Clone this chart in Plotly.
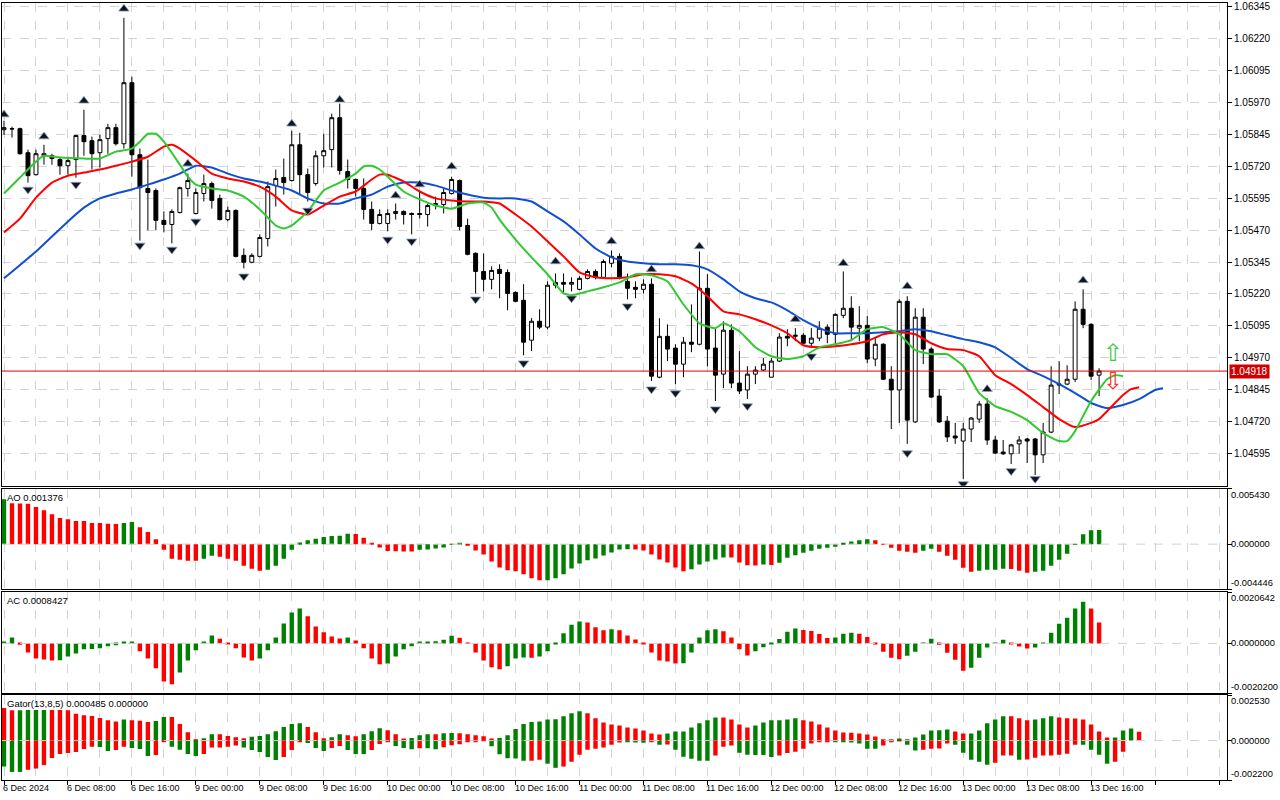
import plotly.graph_objects as go
from plotly.subplots import make_subplots

# hourly bars, 6 Dec 2024 00:00 .. 13 Dec 2024 17:00
bars = list(range(138))

opens = [
    1.05863, 1.05867, 1.05867, 1.05773, 1.05687, 1.05761, 1.05761, 1.05746, 1.05722, 1.05746,
    1.05840, 1.05820, 1.05773, 1.05828, 1.05871, 1.05808, 1.06047, 1.05765, 1.05633, 1.05625,
    1.05508, 1.05492, 1.05539, 1.05633, 1.05535, 1.05613, 1.05652, 1.05594, 1.05511, 1.05547,
    1.05371, 1.05344, 1.05367, 1.05437, 1.05644, 1.05676, 1.05664, 1.05804, 1.05687, 1.05652,
    1.05761, 1.05785, 1.05910, 1.05699, 1.05668, 1.05633, 1.05551, 1.05496, 1.05496, 1.05535,
    1.05543, 1.05535, 1.05535, 1.05531, 1.05566, 1.05570, 1.05613, 1.05664, 1.05488, 1.05379,
    1.05308, 1.05277, 1.05316, 1.05304, 1.05226, 1.05195, 1.05039, 1.05113, 1.05090, 1.05254,
    1.05265, 1.05258, 1.05238, 1.05281, 1.05308, 1.05285, 1.05340, 1.05367, 1.05269, 1.05246,
    1.05238, 1.05258, 1.04894, 1.05054, 1.05008, 1.04945, 1.05031, 1.05023, 1.05242, 1.05008,
    1.04906, 1.05078, 1.04871, 1.04844, 1.04906, 1.04922, 1.04894, 1.04957, 1.05054, 1.05054,
    1.05058, 1.05027, 1.05047, 1.05090, 1.05062, 1.05136, 1.05164, 1.05086, 1.05097, 1.04965,
    1.05023, 1.04886, 1.04844, 1.05191, 1.04719, 1.05129, 1.05004, 1.04820, 1.04722, 1.04664,
    1.04644, 1.04691, 1.04730, 1.04789, 1.04648, 1.04601, 1.04594, 1.04633, 1.04652, 1.04652,
    1.04590, 1.04679, 1.04863, 1.04867, 1.04886, 1.05160, 1.05101, 1.04902,
]
highs = [
    1.05898, 1.05875, 1.05871, 1.05785, 1.05785, 1.05804, 1.05769, 1.05757, 1.05757, 1.05843,
    1.05941, 1.05836, 1.05843, 1.05886, 1.05886, 1.06301, 1.06070, 1.05789, 1.05746, 1.05633,
    1.05543, 1.05551, 1.05640, 1.05691, 1.05633, 1.05687, 1.05660, 1.05609, 1.05562, 1.05551,
    1.05398, 1.05379, 1.05453, 1.05660, 1.05707, 1.05750, 1.05859, 1.05851, 1.05711, 1.05781,
    1.05847, 1.05926, 1.05965, 1.05746, 1.05672, 1.05672, 1.05582, 1.05551, 1.05551, 1.05574,
    1.05547, 1.05539, 1.05625, 1.05574, 1.05601, 1.05633, 1.05679, 1.05668, 1.05515, 1.05383,
    1.05379, 1.05328, 1.05336, 1.05316, 1.05230, 1.05258, 1.05125, 1.05160, 1.05269, 1.05300,
    1.05300, 1.05285, 1.05289, 1.05316, 1.05316, 1.05355, 1.05390, 1.05379, 1.05300, 1.05269,
    1.05277, 1.05281, 1.05125, 1.05101, 1.05023, 1.05051, 1.05179, 1.05386, 1.05297, 1.05086,
    1.05113, 1.05101, 1.04996, 1.04937, 1.04937, 1.04969, 1.04969, 1.05066, 1.05082, 1.05086,
    1.05066, 1.05086, 1.05113, 1.05101, 1.05144, 1.05308, 1.05211, 1.05172, 1.05133, 1.05047,
    1.05027, 1.04937, 1.05199, 1.05211, 1.05164, 1.05164, 1.05011, 1.04847, 1.04742, 1.04715,
    1.04715, 1.04738, 1.04801, 1.04812, 1.04664, 1.04648, 1.04633, 1.04664, 1.04656, 1.04656,
    1.04715, 1.04937, 1.04957, 1.04941, 1.05191, 1.05238, 1.05105, 1.04929,
]
lows = [
    1.05843, 1.05832, 1.05765, 1.05656, 1.05683, 1.05726, 1.05726, 1.05687, 1.05687, 1.05675,
    1.05761, 1.05707, 1.05715, 1.05769, 1.05801, 1.05789, 1.05679, 1.05429, 1.05469, 1.05469,
    1.05461, 1.05418, 1.05535, 1.05601, 1.05531, 1.05582, 1.05554, 1.05508, 1.05504, 1.05363,
    1.05320, 1.05340, 1.05363, 1.05406, 1.05562, 1.05609, 1.05660, 1.05609, 1.05582, 1.05644,
    1.05715, 1.05715, 1.05687, 1.05633, 1.05601, 1.05511, 1.05469, 1.05492, 1.05465, 1.05511,
    1.05492, 1.05453, 1.05515, 1.05484, 1.05551, 1.05535, 1.05609, 1.05469, 1.05371, 1.05222,
    1.05230, 1.05238, 1.05203, 1.05156, 1.05187, 1.04980, 1.04996, 1.05082, 1.05082, 1.05242,
    1.05222, 1.05230, 1.05234, 1.05277, 1.05277, 1.05281, 1.05324, 1.05277, 1.05199, 1.05203,
    1.05222, 1.04879, 1.04890, 1.04957, 1.04867, 1.04894, 1.04992, 1.05019, 1.04937, 1.04801,
    1.04851, 1.04851, 1.04828, 1.04808, 1.04867, 1.04918, 1.04894, 1.04953, 1.05015, 1.05035,
    1.05023, 1.05008, 1.05035, 1.05027, 1.05023, 1.05125, 1.05035, 1.05035, 1.04949, 1.04937,
    1.04883, 1.04691, 1.04715, 1.04633, 1.04715, 1.04945, 1.04812, 1.04715, 1.04640, 1.04633,
    1.04496, 1.04640, 1.04715, 1.04629, 1.04594, 1.04590, 1.04554, 1.04594, 1.04558, 1.04511,
    1.04558, 1.04675, 1.04828, 1.04863, 1.04875, 1.05086, 1.04883, 1.04820,
]
closes = [
    1.05871, 1.05866, 1.05769, 1.05683, 1.05769, 1.05769, 1.05750, 1.05722, 1.05742, 1.05840,
    1.05816, 1.05769, 1.05824, 1.05871, 1.05808, 1.06047, 1.05765, 1.05636, 1.05617, 1.05508,
    1.05492, 1.05543, 1.05636, 1.05664, 1.05617, 1.05652, 1.05586, 1.05511, 1.05547, 1.05367,
    1.05344, 1.05371, 1.05441, 1.05640, 1.05672, 1.05656, 1.05804, 1.05687, 1.05617, 1.05761,
    1.05781, 1.05910, 1.05703, 1.05668, 1.05633, 1.05551, 1.05496, 1.05531, 1.05535, 1.05543,
    1.05531, 1.05531, 1.05531, 1.05566, 1.05574, 1.05617, 1.05668, 1.05484, 1.05375, 1.05308,
    1.05277, 1.05312, 1.05300, 1.05222, 1.05191, 1.05031, 1.05113, 1.05090, 1.05254, 1.05265,
    1.05258, 1.05265, 1.05281, 1.05308, 1.05285, 1.05347, 1.05367, 1.05281, 1.05242, 1.05238,
    1.05258, 1.04898, 1.05054, 1.05004, 1.04945, 1.05031, 1.05023, 1.05242, 1.05004, 1.04902,
    1.05078, 1.04871, 1.04840, 1.04906, 1.04922, 1.04945, 1.04957, 1.05051, 1.05047, 1.05058,
    1.05027, 1.05047, 1.05086, 1.05062, 1.05140, 1.05164, 1.05090, 1.05097, 1.04965, 1.05023,
    1.04886, 1.04844, 1.05191, 1.04726, 1.05129, 1.05004, 1.04816, 1.04719, 1.04660, 1.04656,
    1.04691, 1.04734, 1.04789, 1.04648, 1.04597, 1.04594, 1.04629, 1.04648, 1.04644, 1.04590,
    1.04679, 1.04863, 1.04867, 1.04886, 1.05160, 1.05101, 1.04898, 1.04918,
]

# Alligator (13,8,5) lines
jaw_bar = [0, 4, 8, 10, 12, 14, 16, 18, 20, 22,
           24, 26, 28, 30, 32, 34, 36, 38, 40, 42,
           44, 46, 48, 50, 52, 54, 56, 58, 60, 62,
           64, 66, 68, 70, 72, 74, 76, 78, 80, 82,
           84, 86, 88, 90, 92, 94, 96, 98, 100, 102,
           104, 106, 108, 110, 112, 114, 116, 118, 120, 122,
           124, 126, 128, 130, 132, 134, 136, 138, 140, 142,
           144, 145]
jaw_price = [1.05281, 1.05386, 1.05504, 1.05558, 1.05594, 1.05613, 1.05629, 1.05648, 1.05668, 1.05691,
             1.05722, 1.05715, 1.05691, 1.05672, 1.05660, 1.05644, 1.05625, 1.05594, 1.05574, 1.05574,
             1.05594, 1.05609, 1.05640, 1.05656, 1.05656, 1.05644, 1.05625, 1.05609, 1.05597, 1.05594,
             1.05594, 1.05582, 1.05543, 1.05504, 1.05453, 1.05398, 1.05363, 1.05347, 1.05340, 1.05336,
             1.05336, 1.05332, 1.05316, 1.05277, 1.05230, 1.05203, 1.05187, 1.05156, 1.05117, 1.05086,
             1.05066, 1.05066, 1.05066, 1.05070, 1.05074, 1.05082, 1.05074, 1.05058, 1.05043, 1.05031,
             1.05011, 1.04969, 1.04926, 1.04898, 1.04867, 1.04832, 1.04793, 1.04773, 1.04785, 1.04808,
             1.04844, 1.04851]

teeth_bar = [0, 2, 4, 6, 8, 10, 12, 14, 16, 18,
             20, 21, 22, 24, 26, 28, 30, 32, 34, 36,
             38, 40, 42, 44, 46, 47, 48, 50, 52, 54,
             56, 58, 60, 62, 64, 66, 68, 70, 72, 74,
             76, 78, 80, 82, 84, 86, 88, 90, 92, 94,
             96, 98, 100, 102, 104, 106, 108, 110, 112, 114,
             116, 118, 120, 122, 124, 126, 128, 130, 132, 134,
             136, 137, 138, 140, 141, 142]
teeth_price = [1.05461, 1.05515, 1.05597, 1.05656, 1.05683, 1.05695, 1.05707, 1.05722, 1.05738, 1.05757,
               1.05797, 1.05804, 1.05789, 1.05742, 1.05691, 1.05672, 1.05660, 1.05640, 1.05601, 1.05547,
               1.05531, 1.05566, 1.05601, 1.05621, 1.05668, 1.05687, 1.05687, 1.05660, 1.05621, 1.05594,
               1.05586, 1.05582, 1.05582, 1.05574, 1.05531, 1.05484, 1.05426, 1.05367, 1.05304, 1.05285,
               1.05281, 1.05285, 1.05297, 1.05297, 1.05289, 1.05261, 1.05211, 1.05152, 1.05140, 1.05121,
               1.05097, 1.05066, 1.05019, 1.05011, 1.05015, 1.05023, 1.05035, 1.05062, 1.05070, 1.05062,
               1.05027, 1.05004, 1.05000, 1.04976, 1.04902, 1.04867, 1.04824, 1.04777, 1.04730, 1.04699,
               1.04715, 1.04730, 1.04761, 1.04824, 1.04847, 1.04855]

lips_bar = [0, 2, 4, 5, 7, 10, 12, 14, 16, 17,
            18, 19, 20, 22, 23, 24, 26, 28, 30, 32,
            34, 35, 36, 38, 40, 42, 44, 45, 46, 47,
            48, 50, 52, 54, 56, 58, 60, 61, 62, 64,
            66, 68, 70, 71, 73, 75, 77, 79, 81, 83,
            85, 87, 89, 90, 92, 94, 96, 98, 100, 102,
            104, 106, 108, 110, 112, 114, 116, 118, 120, 122,
            124, 126, 128, 130, 132, 133, 134, 136, 138, 139,
            140]
lips_price = [1.05613, 1.05676, 1.05738, 1.05761, 1.05754, 1.05750, 1.05750, 1.05777, 1.05789, 1.05816,
              1.05847, 1.05847, 1.05816, 1.05726, 1.05679, 1.05648, 1.05633, 1.05625, 1.05601, 1.05551,
              1.05488, 1.05476, 1.05488, 1.05543, 1.05625, 1.05656, 1.05691, 1.05719, 1.05722, 1.05707,
              1.05679, 1.05621, 1.05590, 1.05566, 1.05554, 1.05574, 1.05578, 1.05558, 1.05511, 1.05433,
              1.05363, 1.05297, 1.05222, 1.05215, 1.05230, 1.05246, 1.05265, 1.05297, 1.05293, 1.05269,
              1.05179, 1.05105, 1.05086, 1.05105, 1.05074, 1.05011, 1.04976, 1.04965, 1.04976, 1.05011,
              1.05023, 1.05039, 1.05082, 1.05090, 1.05062, 1.05000, 1.04984, 1.04984, 1.04937, 1.04832,
              1.04781, 1.04758, 1.04726, 1.04675, 1.04644, 1.04644, 1.04683, 1.04801, 1.04886, 1.04902,
              1.04898]

# Fractals
frac_up_bar = [0, 5, 10, 15, 23, 36, 42, 49, 52, 56, 69, 76, 81, 87, 99, 105, 113, 123, 135]
frac_up_price = [1.05922, 1.05836, 1.05976, 1.06336, 1.05730, 1.05886, 1.05980, 1.05605, 1.05648, 1.05719,
                 1.05347, 1.05426, 1.05316, 1.05406, 1.05121, 1.05340, 1.05250, 1.04847, 1.05273]
frac_dn_bar = [3, 9, 17, 21, 24, 30, 38, 48, 51, 59, 65, 71, 78, 81, 84, 89, 93, 101, 113, 120, 126, 129]
frac_dn_price = [1.05629, 1.05648, 1.05410, 1.05394, 1.05504, 1.05289, 1.05547, 1.05433, 1.05426, 1.05199,
                 1.04949, 1.05203, 1.05172, 1.04847, 1.04832, 1.04769, 1.04781, 1.04976, 1.04597, 1.04476,
                 1.04527, 1.04496]

last_price = 1.04918
signal_bar = [138.75]
signal_up_price = [1.04980]
signal_dn_price = [1.04871]

price_ticks = [1.04595, 1.04720, 1.04845, 1.04970, 1.05095, 1.05220, 1.05345, 1.05470,
               1.05595, 1.05720, 1.05845, 1.05970, 1.06095, 1.06220, 1.06345]

time_bars = [0, 8, 16, 24, 32, 40, 48, 56, 64, 72, 80, 88, 96, 104, 112, 120, 128, 136]
time_labels = ["6 Dec 2024", "6 Dec 08:00", "6 Dec 16:00", "9 Dec 00:00", "9 Dec 08:00",
               "9 Dec 16:00", "10 Dec 00:00", "10 Dec 08:00", "10 Dec 16:00", "11 Dec 00:00",
               "11 Dec 08:00", "11 Dec 16:00", "12 Dec 00:00", "12 Dec 08:00", "12 Dec 16:00",
               "13 Dec 00:00", "13 Dec 08:00", "13 Dec 16:00"]

ao = [0.00440, 0.00401, 0.00399, 0.00396, 0.00365, 0.00333, 0.00293, 0.00257, 0.00245, 0.00228,
      0.00226, 0.00208, 0.00207, 0.00199, 0.00198, 0.00208, 0.00218, 0.00166, 0.00120, 0.00049,
      -0.00056, -0.00144, -0.00154, -0.00163, -0.00164, -0.00144, -0.00114, -0.00124, -0.00144, -0.00163,
      -0.00212, -0.00242, -0.00261, -0.00251, -0.00212, -0.00144, -0.00056, 0.00017, 0.00039, 0.00052,
      0.00071, 0.00081, 0.00082, 0.00101, 0.00100, 0.00062, 0.00013, -0.00032, -0.00067, -0.00070,
      -0.00071, -0.00072, -0.00055, -0.00052, -0.00042, -0.00032, 0.00002, 0.00004, -0.00013, -0.00062,
      -0.00101, -0.00169, -0.00228, -0.00257, -0.00267, -0.00296, -0.00335, -0.00355, -0.00354, -0.00335,
      -0.00296, -0.00238, -0.00189, -0.00159, -0.00140, -0.00111, -0.00081, -0.00052, -0.00051, -0.00053,
      -0.00062, -0.00101, -0.00150, -0.00179, -0.00228, -0.00267, -0.00247, -0.00199, -0.00169, -0.00150,
      -0.00130, -0.00131, -0.00179, -0.00208, -0.00209, -0.00199, -0.00205, -0.00183, -0.00134, -0.00108,
      -0.00085, -0.00066, -0.00046, -0.00036, -0.00026, 0.00007, 0.00026, 0.00039, 0.00049, 0.00039,
      -0.00005, -0.00036, -0.00066, -0.00075, -0.00085, -0.00066, -0.00046, -0.00075, -0.00114, -0.00154,
      -0.00232, -0.00271, -0.00261, -0.00251, -0.00250, -0.00242, -0.00243, -0.00261, -0.00281, -0.00271,
      -0.00261, -0.00212, -0.00154, -0.00095, 0.00003, 0.00098, 0.00136, 0.001376]

ac = [0.00008, 0.00024, -0.00005, -0.00037, -0.00061, -0.00065, -0.00069, -0.00068, -0.00053, -0.00041,
      -0.00024, -0.00023, -0.00020, -0.00012, -0.00008, 0.00005, 0.00006, -0.00032, -0.00061, -0.00101,
      -0.00154, -0.00166, -0.00118, -0.00069, -0.00028, 0.00008, 0.00032, 0.00019, -0.00002, -0.00020,
      -0.00057, -0.00069, -0.00061, -0.00028, 0.00024, 0.00081, 0.00125, 0.00141, 0.00110, 0.00069,
      0.00045, 0.00028, 0.00020, 0.00024, 0.00012, -0.00020, -0.00061, -0.00085, -0.00081, -0.00053,
      -0.00024, -0.00012, 0.00004, 0.00007, 0.00009, 0.00015, 0.00031, 0.00023, 0.00003, -0.00037,
      -0.00069, -0.00097, -0.00105, -0.00093, -0.00061, -0.00057, -0.00058, -0.00053, -0.00032, -0.00004,
      0.00041, 0.00076, 0.00089, 0.00085, 0.00065, 0.00053, 0.00057, 0.00053, 0.00032, 0.00016,
      -0.00004, -0.00037, -0.00069, -0.00073, -0.00081, -0.00080, -0.00037, 0.00024, 0.00053, 0.00057,
      0.00049, 0.00024, -0.00024, -0.00049, -0.00032, -0.00016, -0.00004, 0.00018, 0.00047, 0.00060,
      0.00054, 0.00050, 0.00038, 0.00022, 0.00024, 0.00039, 0.00043, 0.00039, 0.00026, -0.00001,
      -0.00034, -0.00058, -0.00064, -0.00050, -0.00034, 0.00002, 0.00019, -0.00005, -0.00038, -0.00066,
      -0.00111, -0.00099, -0.00058, -0.00017, 0.00003, 0.00015, -0.00001, -0.00013, -0.00021, -0.00017,
      0.00003, 0.00043, 0.00080, 0.00104, 0.00141, 0.00169, 0.00141, 0.0008427]

gator_up = [0.00182, 0.00169, 0.00169, 0.00170, 0.00171, 0.00171, 0.00171, 0.00170, 0.00169, 0.00150,
            0.00141, 0.00137, 0.00126, 0.00113, 0.00107, 0.00118, 0.00113, 0.00111, 0.00103, 0.00109,
            0.00131, 0.00131, 0.00092, 0.00047, 0.00007, 0.00013, 0.00035, 0.00035, 0.00026, 0.00019,
            0.00013, 0.00021, 0.00026, 0.00035, 0.00052, 0.00075, 0.00092, 0.00097, 0.00075, 0.00047,
            0.00013, 0.00019, 0.00035, 0.00030, 0.00024, 0.00035, 0.00052, 0.00069, 0.00058, 0.00035,
            0.00012, 0.00014, 0.00030, 0.00035, 0.00035, 0.00041, 0.00042, 0.00041, 0.00035, 0.00030,
            0.00024, 0.00012, 0.00014, 0.00030, 0.00064, 0.00092, 0.00103, 0.00107, 0.00118, 0.00119,
            0.00135, 0.00152, 0.00163, 0.00152, 0.00124, 0.00101, 0.00090, 0.00084, 0.00073, 0.00068,
            0.00056, 0.00039, 0.00034, 0.00039, 0.00051, 0.00051, 0.00073, 0.00096, 0.00113, 0.00129,
            0.00129, 0.00118, 0.00090, 0.00073, 0.00084, 0.00101, 0.00113, 0.00113, 0.00118, 0.00124,
            0.00113, 0.00107, 0.00090, 0.00073, 0.00056, 0.00045, 0.00044, 0.00039, 0.00034, 0.00023,
            0.00003, 0.00006, 0.00011, 0.00006, 0.00017, 0.00034, 0.00056, 0.00057, 0.00062, 0.00051,
            0.00039, 0.00040, 0.00056, 0.00096, 0.00118, 0.00135, 0.00135, 0.00124, 0.00113, 0.00118,
            0.00124, 0.00135, 0.00129, 0.00124, 0.00123, 0.00118, 0.00090, 0.00051, 0.00017, 0.00017,
            0.00056, 0.00068, 0.000485]
gator_up_colors = ("RRGGGGRRRR" "RRRRRGRRRG" "GRRRRGGRRR" "RGGGGGGGRR" "RGGRRGGGRR"
                   "RGGGRGGRRR" "RRGGGGGGGG" "GGGRRRRRRR" "RRRGGGGGGG" "RRRRGGGGGG"
                   "RRRRRRRRRR" "RGGRGGGGGR" "RGGGGGRRRG" "GGRRRRRRRG" "GGR")

gator_dn = [-0.00145, -0.00175, -0.00175, -0.00163, -0.00156, -0.00137, -0.00097, -0.00075, -0.00069, -0.00064,
            -0.00047, -0.00035, -0.00036, -0.00058, -0.00052, -0.00035, -0.00041, -0.00047, -0.00086, -0.00081,
            -0.00006, -0.00034, -0.00051, -0.00075, -0.00086, -0.00075, -0.00039, -0.00039, -0.00035, -0.00028,
            -0.00039, -0.00052, -0.00064, -0.00092, -0.00109, -0.00092, -0.00052, -0.00006, -0.00013, -0.00041,
            -0.00058, -0.00041, -0.00030, -0.00052, -0.00075, -0.00075, -0.00052, -0.00019, -0.00004, -0.00030,
            -0.00041, -0.00048, -0.00043, -0.00043, -0.00048, -0.00037, -0.00026, -0.00020, -0.00010, -0.00005,
            -0.00002, -0.00032, -0.00077, -0.00099, -0.00100, -0.00113, -0.00113, -0.00107, -0.00129, -0.00152,
            -0.00145, -0.00118, -0.00079, -0.00051, -0.00045, -0.00039, -0.00023, -0.00011, -0.00006, -0.00011,
            -0.00012, -0.00006, -0.00023, -0.00022, -0.00051, -0.00090, -0.00101, -0.00113, -0.00113, -0.00084,
            -0.00034, -0.00028, -0.00068, -0.00079, -0.00080, -0.00081, -0.00092, -0.00084, -0.00069, -0.00062,
            -0.00045, -0.00017, -0.00006, -0.00005, -0.00006, -0.00007, -0.00011, -0.00017, -0.00045, -0.00046,
            -0.00028, -0.00006, -0.00003, -0.00023, -0.00056, -0.00051, -0.00045, -0.00044, -0.00017, -0.00023,
            -0.00068, -0.00107, -0.00118, -0.00135, -0.00124, -0.00084, -0.00084, -0.00107, -0.00106, -0.00096,
            -0.00084, -0.00084, -0.00079, -0.00073, -0.00023, -0.00023, -0.00051, -0.00079, -0.00129, -0.00118,
            -0.00062]
gator_dn_colors = ("GGGRRRRRRR" "RRGGRRGGGR" "RGGGGRRRRR" "GGGGGRRRGG" "GRRGGGRRRG"
                   "GGRGGRRRRR" "RGGGGGRRGG" "RRRRRRRRGG" "GRGRGGGGGR" "RRGGGGGRRR"
                   "RRRRGGGGGG" "RRRGGRRRRG" "GGGGRRRGRR" "RRRRRGGGGR" "R")

GREEN = "#008000"
RED = "#ff0000"
GRID = "#d4d4d4"


def trend_colors(values):
    out = [GREEN]
    for prev, cur in zip(values[:-1], values[1:]):
        out.append(GREEN if cur > prev else RED)
    return out


fig = make_subplots(rows=4, cols=1, shared_xaxes=True, vertical_spacing=0.0)

fig.add_trace(go.Candlestick(
    x=bars, open=opens, high=highs, low=lows, close=closes,
    increasing=dict(line=dict(color="black", width=1), fillcolor="white"),
    decreasing=dict(line=dict(color="black", width=1), fillcolor="black"),
    whiskerwidth=0, hoverinfo="skip", showlegend=False), row=1, col=1)

for xs, ys, col in [(jaw_bar, jaw_price, "#1050d0"),
                    (teeth_bar, teeth_price, "#ff0000"),
                    (lips_bar, lips_price, "#32c832")]:
    fig.add_trace(go.Scatter(x=xs, y=ys, mode="lines",
                             line=dict(color=col, width=2, shape="spline", smoothing=0.5),
                             hoverinfo="skip", showlegend=False), row=1, col=1)

# Bill Williams fractals
frac_marker = dict(size=9, color="#151515", line=dict(color="#8a9fd6", width=0.8))
fig.add_trace(go.Scatter(x=frac_up_bar, y=frac_up_price, mode="markers",
                         marker=dict(frac_marker, symbol="triangle-up"),
                         hoverinfo="skip", showlegend=False), row=1, col=1)
fig.add_trace(go.Scatter(x=frac_dn_bar, y=frac_dn_price, mode="markers",
                         marker=dict(frac_marker, symbol="triangle-down"),
                         hoverinfo="skip", showlegend=False), row=1, col=1)

fig.add_trace(go.Scatter(x=signal_bar, y=signal_up_price, mode="text", text=["⇧"],
                         textfont=dict(family="DejaVu Sans", size=24, color="#40c840"),
                         hoverinfo="skip", showlegend=False), row=1, col=1)
fig.add_trace(go.Scatter(x=signal_bar, y=signal_dn_price, mode="text", text=["⇩"],
                         textfont=dict(family="DejaVu Sans", size=24, color="#ff3030"),
                         hoverinfo="skip", showlegend=False), row=1, col=1)

fig.add_hline(y=last_price, line_color="#e00000", line_width=1, row=1, col=1)

fig.add_trace(go.Bar(x=bars, y=ao, marker_color=trend_colors(ao), marker_line_width=0,
                     width=0.55, hoverinfo="skip", showlegend=False), row=2, col=1)
fig.add_trace(go.Bar(x=bars, y=ac, marker_color=trend_colors(ac), marker_line_width=0,
                     width=0.55, hoverinfo="skip", showlegend=False), row=3, col=1)
fig.add_trace(go.Bar(x=list(range(len(gator_up))), y=gator_up,
                     marker_color=[GREEN if c == "G" else RED for c in gator_up_colors],
                     marker_line_width=0, width=0.55, hoverinfo="skip", showlegend=False), row=4, col=1)
fig.add_trace(go.Bar(x=list(range(len(gator_dn))), y=gator_dn,
                     marker_color=[GREEN if c == "G" else RED for c in gator_dn_colors],
                     marker_line_width=0, width=0.55, hoverinfo="skip", showlegend=False), row=4, col=1)

for r in (2, 3, 4):
    fig.add_hline(y=0, line_color="#d0d0d0", line_width=1, line_dash="dash", row=r, col=1)

axis_common = dict(showline=True, linecolor="black", linewidth=1, mirror=True, zeroline=False)

fig.update_xaxes(range=[-0.25, 153], tickmode="linear", tick0=0, dtick=8,
                 showgrid=True, gridcolor=GRID, griddash="dash", gridwidth=1,
                 minor=dict(tick0=0, dtick=4, showgrid=True, gridcolor=GRID, griddash="dash"),
                 showticklabels=False, ticks="", rangeslider_visible=False, **axis_common)
fig.update_xaxes(ticks="outside", ticklen=4, tickcolor="black", row=4, col=1)

fig.update_yaxes(side="right", ticks="outside", ticklen=4, tickcolor="black", **axis_common)
fig.update_yaxes(range=[1.04469, 1.06359], tickmode="array", tickvals=price_ticks,
                 ticktext=[f"{v:.5f}" for v in price_ticks], ticklabeloverflow="allow",
                 showgrid=True, gridcolor=GRID, griddash="dash", row=1, col=1)

ao_lim = [-0.004446, 0.005430]
ac_lim = [-0.0020200, 0.0020642]
gator_lim = [-0.002200, 0.002530]
fig.update_yaxes(range=ao_lim, tickvals=[ao_lim[0], 0, ao_lim[1]], showticklabels=False,
                 showgrid=False, row=2, col=1)
fig.update_yaxes(range=ac_lim, tickvals=[ac_lim[0], 0, ac_lim[1]], showticklabels=False,
                 showgrid=False, row=3, col=1)
fig.update_yaxes(range=gator_lim, tickvals=[gator_lim[0], 0, gator_lim[1]], showticklabels=False,
                 showgrid=False, row=4, col=1)

fig.update_layout(
    width=1280, height=800,
    margin=dict(l=1, r=53, t=1, b=20),
    paper_bgcolor="white", plot_bgcolor="white",
    font=dict(family="Liberation Sans", size=10, color="black"),
    barmode="overlay", boxgap=0.3,
    showlegend=False,
    yaxis=dict(domain=[0.37869, 1.0]),
    yaxis2=dict(domain=[0.24519, 0.37484]),
    yaxis3=dict(domain=[0.11168, 0.24134]),
    yaxis4=dict(domain=[0.0, 0.10911]),
)

# right-hand scale labels for the indicator windows
for yref, lim, fmt in [("y2", ao_lim, "{:.6f}"), ("y3", ac_lim, "{:.7f}"), ("y4", gator_lim, "{:.6f}")]:
    for val, anchor in [(lim[1], "top"), (0, "middle"), (lim[0], "bottom")]:
        fig.add_annotation(x=1, xref="paper", xanchor="left", xshift=3, y=val, yref=yref,
                           yanchor=anchor, text=fmt.format(val), showarrow=False, borderpad=0,
                           font=dict(size=9.3))

# indicator captions
for yref, caption in [("y2 domain", "AO 0.001376"), ("y3 domain", "AC 0.0008427"),
                      ("y4 domain", "Gator(13,8,5) 0.000485 0.000000")]:
    fig.add_annotation(x=0, xref="paper", xanchor="left", xshift=4, y=1, yref=yref,
                       yanchor="top", yshift=-2, text=caption, showarrow=False,
                       font=dict(size=9.5), borderpad=0)

# last price tag
fig.add_annotation(x=1, xref="paper", xanchor="left", xshift=2, y=last_price, yref="y",
                   text=f"{last_price:.5f}", showarrow=False, bgcolor="#d00000",
                   font=dict(color="white", size=10), borderpad=1)

# time labels
for b, lab in zip(time_bars, time_labels):
    fig.add_annotation(x=b, xref="x4", xanchor="left", xshift=-2, y=0, yref="paper",
                       yanchor="top", yshift=-2, text=lab, showarrow=False,
                       font=dict(size=9), borderpad=0)

fig.write_html("out.html", config={"displayModeBar": False},
               post_script="document.body.style.margin='0';")
